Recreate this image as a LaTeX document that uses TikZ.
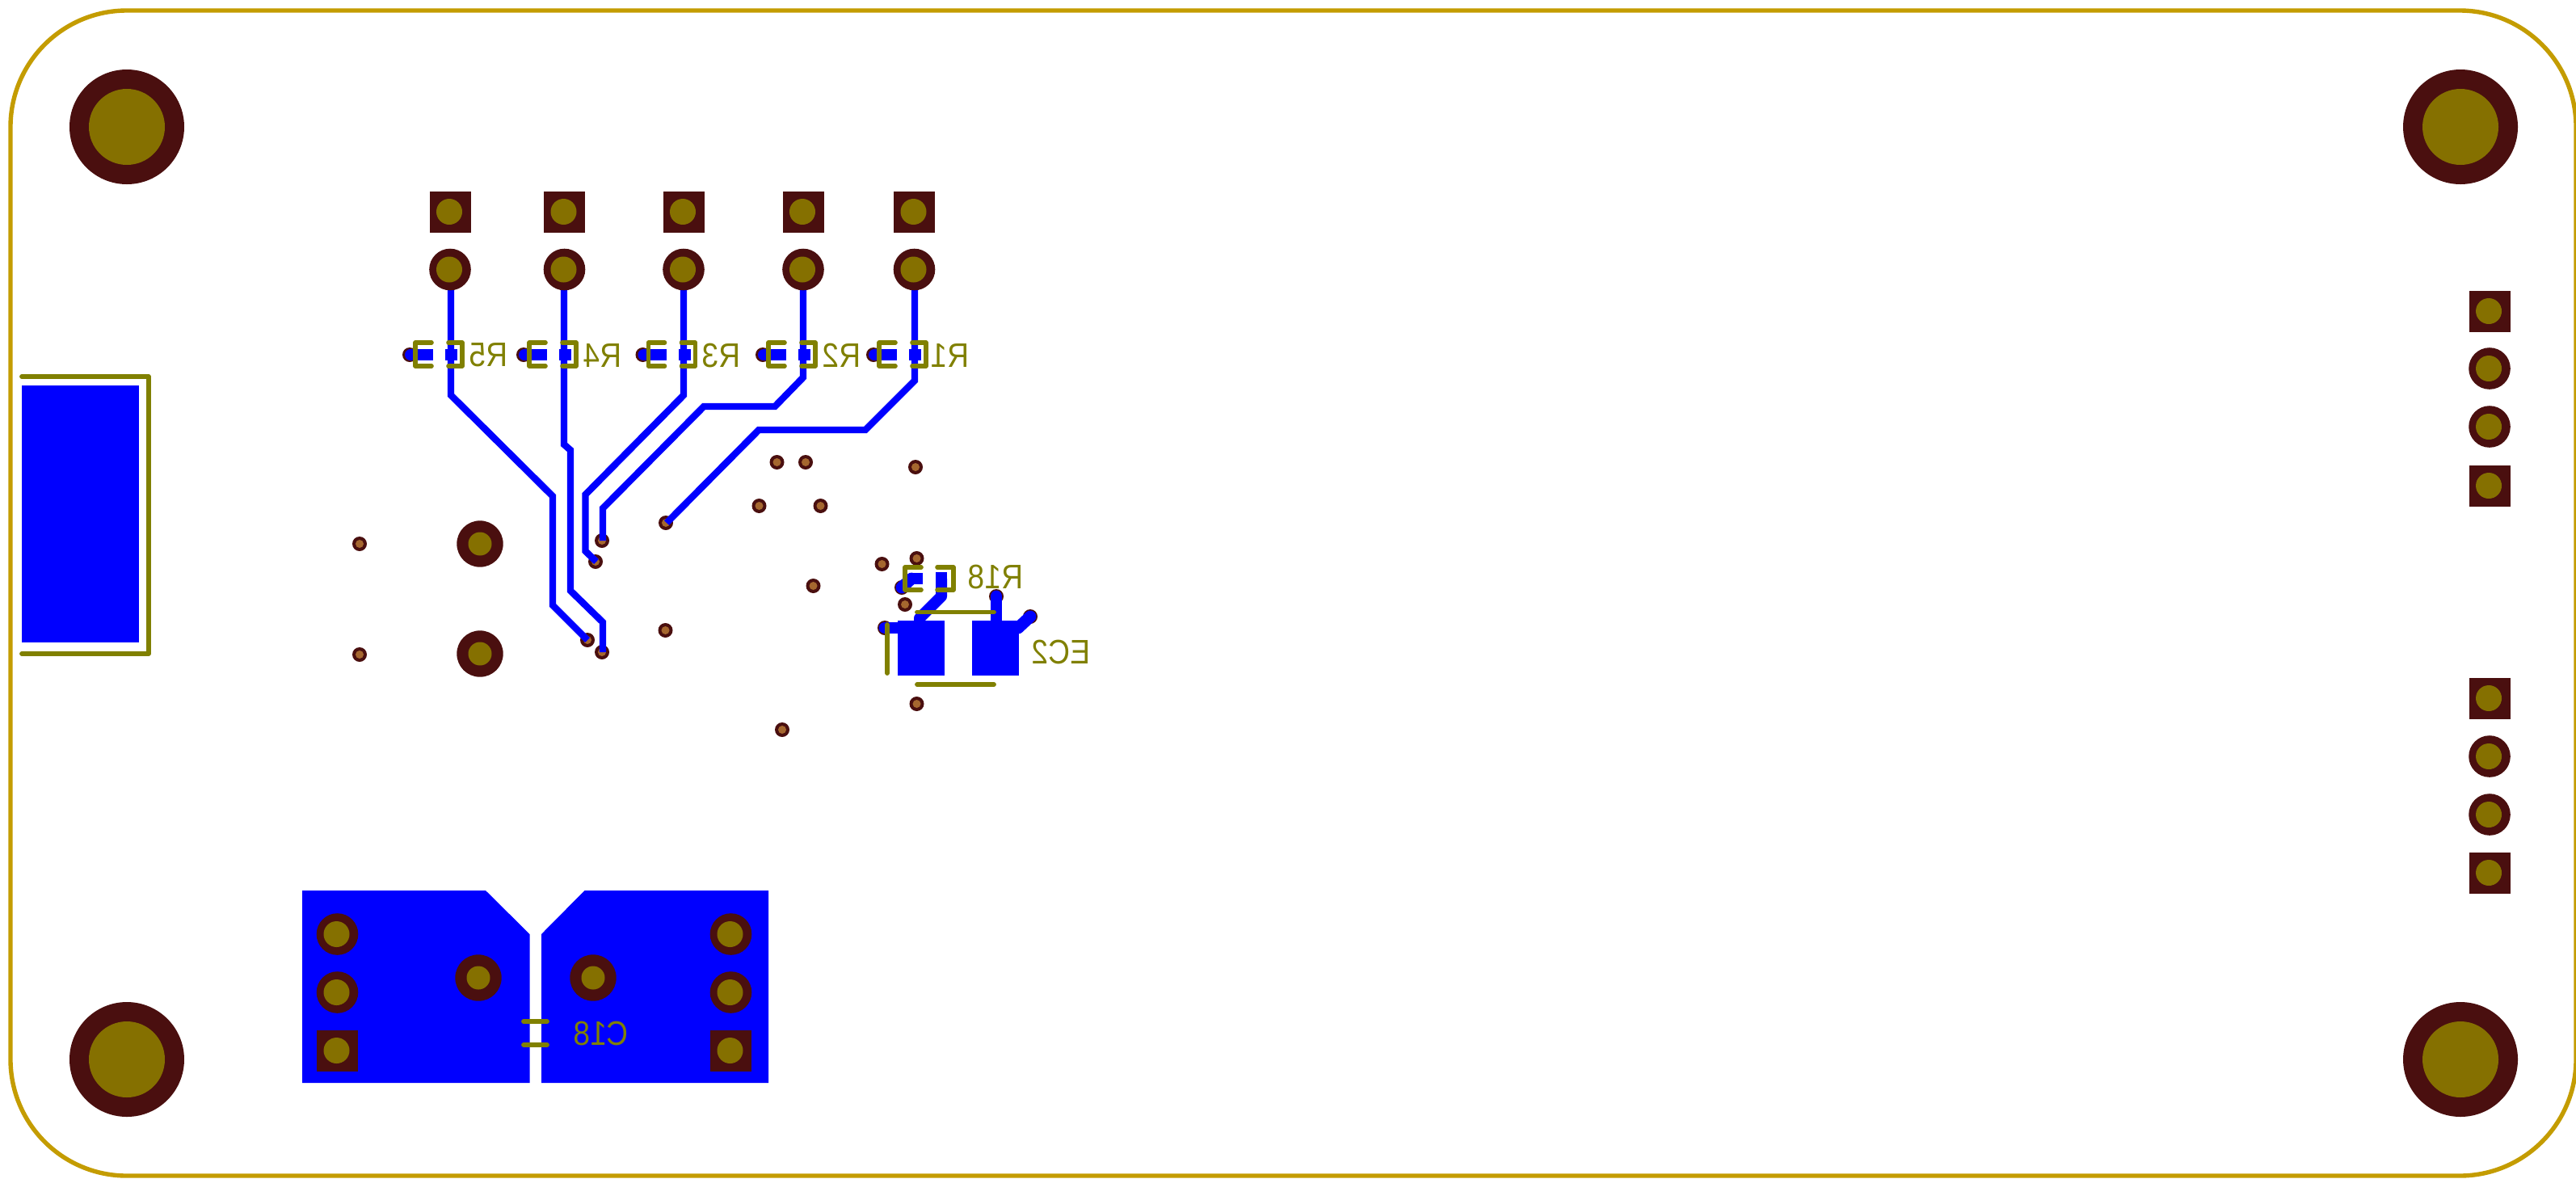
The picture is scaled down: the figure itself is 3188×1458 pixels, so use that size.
\documentclass[tikz,border=0pt]{standalone}
\usepackage{fontspec}
\setmainfont{Liberation Sans}
\definecolor{padc}{HTML}{4A0F0F}
\definecolor{holec}{HTML}{857000}
\definecolor{viac}{HTML}{A5672F}
\definecolor{edgec}{HTML}{C49C00}
\definecolor{silkc}{HTML}{808000}
\definecolor{cu}{HTML}{0000FF}
\tikzset{
  trace/.style={draw=cu,line width=4.2pt,line join=miter},
  fatcu/.style={draw=cu,line width=7.4pt,line cap=round,line join=round},
  silk/.style={draw=silkc,line width=2.9pt,line cap=round,line join=round},
  silkthin/.style={draw=silkc,line width=2.8pt,line cap=round,line join=round},
  mirrortext/.style={xscale=-0.95,yscale=1.08,inner sep=0pt,text=silkc,font=\fontsize{19.5}{21}\selectfont},
}
% round through-hole pad, square through-hole pad, via
\newcommand{\roundpad}[2]{\fill[padc] (#1,#2) circle[radius=25.8];\fill[holec] (#1-1,#2) circle[radius=16];}
\newcommand{\squarepad}[2]{\fill[padc] (#1-25.5,#2-25.5) rectangle (#1+25.5,#2+25.5);\fill[holec] (#1-1,#2) circle[radius=16];}
\newcommand{\viapad}[2]{\fill[padc] (#1,#2) circle[radius=9];\fill[viac] (#1,#2) circle[radius=5];}
\newcommand{\mirrorlabel}[3]{\node[mirrortext] at (#1,#2) {#3};}
\begin{document}
\begin{tikzpicture}[x=0.5pt,y=-0.5pt]
\useasboundingbox (0,0) rectangle (3188,1458);
\fill[white] (0,0) rectangle (3188,1458);
% board outline
\begin{scope}
\clip (0,0) rectangle (3188,1458);
\draw[edgec,line width=2.7pt,rounded corners=72pt] (13,13) rectangle (3188,1455);
\end{scope}
% mounting holes
\foreach \p in {(157,157),(3045,157),(157,1311),(3045,1311)}{
  \fill[padc] \p circle[radius=71];
  \fill[holec] \p circle[radius=47];
}
% left connector copper
\fill[cu] (27,477) rectangle (172,795);
% copper zones
\fill[cu] (374,1102) -- (601,1102) -- (655.5,1156) -- (655.5,1340) -- (374,1340) -- cycle;
\fill[cu] (723.5,1102) -- (951,1102) -- (951,1340) -- (670,1340) -- (670,1156) -- cycle;
% vias
\foreach \x/\y in {445/673,445/810,961.5/572,997/572,939.5/626,1015.5/626,1091.5/698,1006.5/725,823.5/780,
  1133/578,968/903,1134.5/691,1120/748,1134.5/871,824/647,745/669,737/695,727/792,745/807,
  1116/727,1095/777,1233/738,1275/763,507/439,648/439,795.5/439,944/439,1081/439}{
  \viapad{\x}{\y}
}
% traces
\draw[trace] (558,333) -- (558,489) -- (684,614) -- (684,749) -- (727,792);
\draw[trace] (698,333) -- (698,550) -- (706,557) -- (706,731) -- (746,770) -- (746,807);
\draw[trace] (846,333) -- (846,489) -- (724.5,612) -- (724.5,682) -- (738,695);
\draw[trace] (994,333) -- (994,467) -- (959,503) -- (871,503) -- (746,629) -- (746,669);
\draw[trace] (1132,333) -- (1132,471) -- (1071,532) -- (939,532) -- (825,647);
% R1..R5 copper
\foreach \dx in {0,141,288.5,437,574}{
  \fill[cu] (508+\dx,432) rectangle (536+\dx,446);
  \fill[cu] (508+\dx,439) circle[radius=7];
  \fill[cu] (551+\dx,432) rectangle (566+\dx,446);
}
% EC2 and R18 copper
\fill[cu] (1111,768) rectangle (1169,836);
\fill[cu] (1203,768) rectangle (1261,836);
\fill[cu] (1125,709) rectangle (1141.7,723);
\fill[cu] (1158,708) rectangle (1172,723);
\draw[fatcu] (1116,727) -- (1128,716);
\draw[cu,line width=7pt,line join=round] (1165,716) -- (1165,738) -- (1138,765) -- (1138,775);
\draw[fatcu] (1095,777) -- (1115,777);
\draw[fatcu] (1233,738) -- (1233,775);
\draw[fatcu] (1275,763) -- (1260,777) -- (1240,777);
% through-hole pads
\foreach \x in {557,698.5,846,994,1131.5}{\squarepad{\x}{262}\roundpad{\x}{333.5}}
\foreach \y in {385,601,864,1080}{\squarepad{3081}{\y}}
\foreach \y in {456,528,936,1008}{\roundpad{3081}{\y}}
\foreach \x in {417.5,904.5}{\roundpad{\x}{1156}\roundpad{\x}{1228}\squarepad{\x}{1300}}
\foreach \p in {(592,1210),(734,1210),(594,673),(594,809)}{
  \fill[padc] \p circle[radius=28.7];
  \fill[holec] \p circle[radius=14.5];
}
% silkscreen
\draw[silk] (27,466) -- (184,466) -- (184,809) -- (27,809);
\foreach \dx in {0,141,288.5,437,574}{
  \draw[silkthin] (534+\dx,424) -- (514+\dx,424) -- (514+\dx,453) -- (534+\dx,453);
  \draw[silkthin] (555+\dx,424) -- (572+\dx,424) -- (572+\dx,453) -- (555+\dx,453);
}
\draw[silkthin] (1140,702) -- (1120,702) -- (1120,730) -- (1140,730);
\draw[silkthin] (1160,702) -- (1180,702) -- (1180,730) -- (1160,730);
\draw[silk] (1135,757.5) -- (1230,757.5);
\draw[silk] (1135,847) -- (1230,847);
\draw[silk] (1098,773) -- (1098,833);
\draw[silk] (648,1264) -- (677,1264);
\draw[silk] (648,1293) -- (677,1293);
% labels
\mirrorlabel{604.5}{439.5}{R5}
\mirrorlabel{745.5}{439.5}{R4}
\mirrorlabel{893}{439.5}{R3}
\mirrorlabel{1041.5}{439.5}{R2}
\mirrorlabel{1176}{439.5}{R1}
\mirrorlabel{1232}{713.5}{R18}
\mirrorlabel{1313}{807}{EC2}
\mirrorlabel{744}{1279}{C18}
\end{tikzpicture}
\end{document}
